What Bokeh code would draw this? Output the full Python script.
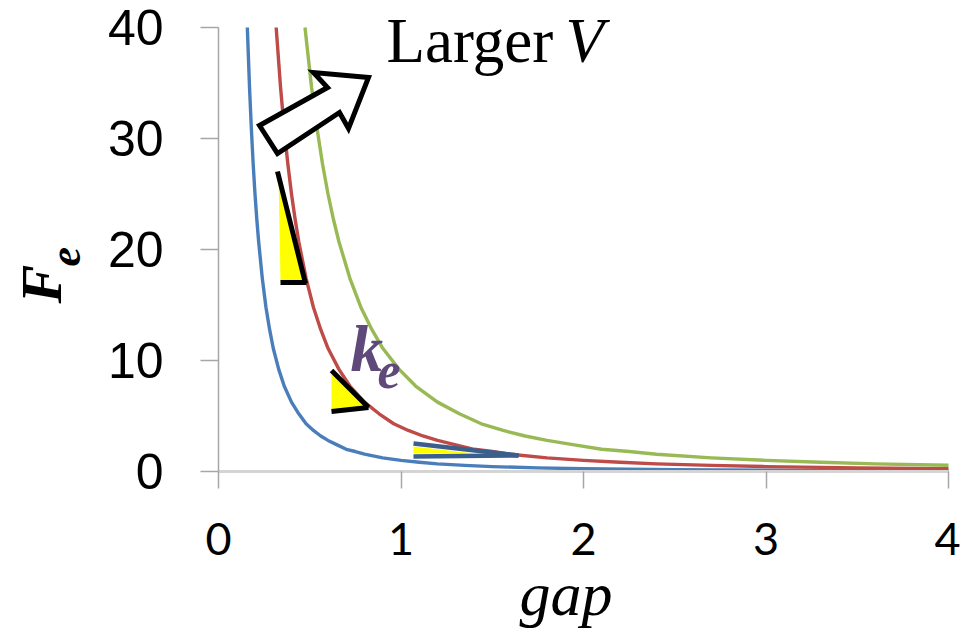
import numpy as np
from bokeh.plotting import figure
from bokeh.models import Label, Range1d, FixedTicker
from bokeh.embed import file_html
from bokeh.resources import INLINE

# ---------------- data ----------------
gap_v1 = [0.158, 0.17, 0.18, 0.19, 0.2, 0.21, 0.22, 0.24, 0.26, 0.28, 0.3, 0.33, 0.36, 0.4,
          0.44, 0.48, 0.52, 0.56, 0.6, 0.65, 0.7, 0.75, 0.8, 0.9, 1.0, 1.1, 1.2, 1.35, 1.5,
          1.75, 2.0, 2.5, 3.0, 3.5, 4.0]
force_v1 = [40.0, 34.6, 30.9, 27.7, 25.0, 22.7, 20.7, 17.4, 14.8, 12.8, 11.1, 9.2, 7.7, 6.25,
            5.2, 4.3, 3.7, 3.2, 2.8, 2.4, 2.0, 1.8, 1.56, 1.23, 1.0, 0.83, 0.69, 0.55, 0.44,
            0.33, 0.25, 0.16, 0.11, 0.08, 0.06]

gap_v2 = [0.316, 0.34, 0.36, 0.38, 0.4, 0.42, 0.44, 0.48, 0.52, 0.56, 0.6, 0.66, 0.72, 0.8,
          0.88, 0.96, 1.04, 1.12, 1.2, 1.3, 1.4, 1.5, 1.6, 1.8, 2.0, 2.2, 2.4, 2.7, 3.0,
          3.5, 4.0]
force_v2 = [40.0, 34.6, 30.9, 27.7, 25.0, 22.7, 20.7, 17.4, 14.8, 12.8, 11.1, 9.2, 7.7, 6.25,
            5.2, 4.3, 3.7, 3.2, 2.8, 2.4, 2.0, 1.8, 1.56, 1.23, 1.0, 0.83, 0.69, 0.55, 0.44,
            0.33, 0.25]

gap_v3 = [0.474, 0.51, 0.54, 0.57, 0.6, 0.63, 0.66, 0.72, 0.78, 0.84, 0.9, 0.99, 1.08, 1.2,
          1.32, 1.44, 1.56, 1.68, 1.8, 1.95, 2.1, 2.25, 2.4, 2.7, 3.0, 3.3, 3.6, 4.0]
force_v3 = [40.0, 34.6, 30.9, 27.7, 25.0, 22.7, 20.7, 17.4, 14.8, 12.8, 11.1, 9.2, 7.7, 6.25,
            5.2, 4.3, 3.7, 3.2, 2.8, 2.4, 2.0, 1.8, 1.56, 1.23, 1.0, 0.83, 0.69, 0.56]

x_ticks = [0, 1, 2, 3, 4]
y_ticks = [0, 10, 20, 30, 40]

# ---------------- layout ----------------
W, H = 960, 630
X_MIN, X_MAX, Y_MIN, Y_MAX = 0, 4, 0, 40
X0_PX, X1_PX = 218, 948      # pixel columns of gap = 0 and gap = 4
Y0_PX, Y1_PX = 471, 27       # pixel rows of F = 0 and F = 40

sx = (X1_PX - X0_PX) / (X_MAX - X_MIN)
sy = (Y0_PX - Y1_PX) / (Y_MAX - Y_MIN)
x_start = X_MIN - X0_PX / sx
y_end = Y_MAX + Y1_PX / sy

p = figure(width=W, height=H, title=None,
           min_border_left=0, min_border_right=0, min_border_top=0, min_border_bottom=0,
           x_range=Range1d(x_start, x_start + W / sx), y_range=Range1d(y_end - H / sy, y_end),
           output_backend="svg", toolbar_location=None,
           background_fill_color="white", border_fill_color="white")
p.outline_line_color = None
p.xgrid.visible = False
p.ygrid.visible = False

def dx(px):
    return x_start + px / sx

def dy(py):
    return y_end - py / sy

# axes drawn at the data origin
p.xaxis.fixed_location = 0
p.yaxis.fixed_location = 0
p.xaxis.bounds = (X_MIN, X_MAX)
p.yaxis.bounds = (Y_MIN, Y_MAX)
p.xaxis.ticker = FixedTicker(ticks=x_ticks)
p.yaxis.ticker = FixedTicker(ticks=y_ticks)
p.xaxis.minor_tick_line_color = None
p.yaxis.minor_tick_line_color = None
p.xaxis.major_tick_in = 0
p.yaxis.major_tick_in = 0
p.xaxis.major_tick_out = 17
p.yaxis.major_tick_out = 18
p.xaxis.major_tick_line_color = "#a6a6a6"
p.yaxis.major_tick_line_color = "#a6a6a6"
p.xaxis.major_tick_line_width = 1.5
p.yaxis.major_tick_line_width = 1.5
p.xaxis.axis_line_color = "#d4d4d4"
p.xaxis.axis_line_width = 3
p.yaxis.axis_line_color = "#a6a6a6"
p.yaxis.axis_line_width = 1.5
p.yaxis.major_label_text_font = "Liberation Sans"
p.yaxis.major_label_text_font_size = "50px"
p.yaxis.major_label_text_color = "black"
p.yaxis.major_label_standoff = 37
p.xaxis.major_label_text_font = "Lato"
p.xaxis.major_label_text_font_size = "45px"
p.xaxis.major_label_text_color = "black"
p.xaxis.major_label_standoff = 34

# curves
p.line(gap_v1, force_v1, line_color="#4a7ebb", line_width=3.4, line_join="round")
p.line(gap_v2, force_v2, line_color="#be4b48", line_width=3.4, line_join="round")
p.line(gap_v3, force_v3, line_color="#98b954", line_width=3.4, line_join="round")

# slope triangles (annotation shapes, positioned in pixels)
tri1 = [(278, 173), (280, 281), (304, 281)]
tri2 = [(331, 373), (331, 409), (367, 407)]
tri3 = [(413, 446), (413, 453), (474, 453)]
for tri in (tri1, tri2, tri3):
    p.patch([dx(a) for a, b in tri], [dy(b) for a, b in tri],
            fill_color="#ffff00", line_color=None)

black_segs = [((277, 171), (305, 283)), ((280, 282), (306, 282)),
              ((331, 370), (368, 407)), ((331, 411), (368, 407))]
for (a, b) in black_segs:
    p.line([dx(a[0]), dx(b[0])], [dy(a[1]), dy(b[1])], line_color="black",
           line_width=5, line_cap="butt")

blue_segs = [((413, 443), (518, 455)), ((413, 456), (518, 455))]
for (a, b) in blue_segs:
    p.line([dx(a[0]), dx(b[0])], [dy(a[1]), dy(b[1])], line_color="#3b5f8c",
           line_width=4.5, line_cap="butt")

# hollow block arrow
arrow = [(259, 125), (327, 87), (313, 72), (368, 77), (348, 128), (339, 112), (277, 153)]
p.patch([dx(a) for a, b in arrow], [dy(b) for a, b in arrow],
        fill_color="white", line_color="black", line_width=5, line_join="miter")

# texts (px, py = pixel position of the text's baseline start)
SHIFT = 0.36  # renderer places alphabetic baseline this many em lower; compensate

def lab(text, px, py, size, style="normal", color="black", font="Liberation Serif", rotated=False):
    if rotated:
        px = px - SHIFT * size
    else:
        py = py - SHIFT * size
    p.add_layout(Label(x=dx(px), y=dy(py), text=text, text_font=font,
                       text_font_size=f"{size}px", text_font_style=style,
                       text_color=color, text_align="left", text_baseline="alphabetic",
                       angle=np.pi / 2 if rotated else 0.0))

lab("Larger", 386, 63, 63)
lab("V", 565, 63, 63, style="italic")
lab("k", 350, 372, 65, style="bold italic", color="#5F497A")
lab("e", 377, 389, 52, style="bold italic", color="#5F497A")
lab("gap", 519, 616, 62, style="italic")
lab("F", 62, 303, 58, style="bold italic", rotated=True)
lab("e", 81, 266, 44, style="bold italic", rotated=True)

open("out.html", "w").write(file_html(p, INLINE))
